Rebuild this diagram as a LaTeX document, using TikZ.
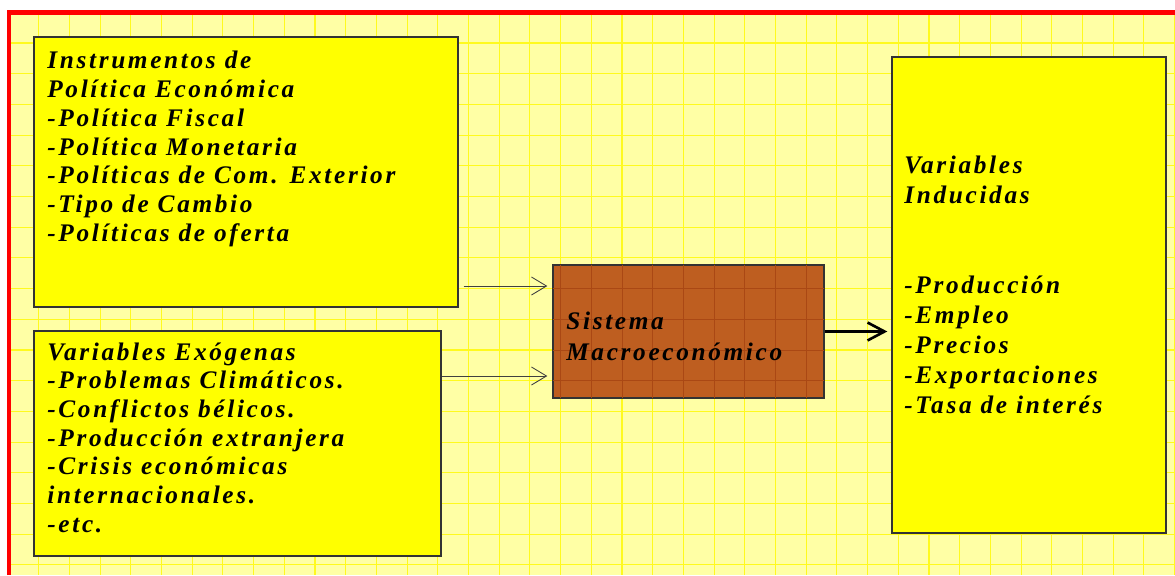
\documentclass[tikz,border=0pt]{standalone}
\usepackage{fontspec}
\setmainfont{Liberation Serif}
\newfontfamily\letra[LetterSpace=10.5]{Liberation Serif}
\usetikzlibrary{arrows.meta}

\definecolor{fondo}{RGB}{255,255,165}
\definecolor{rejilla}{RGB}{255,250,30}
\definecolor{amarillo}{RGB}{255,255,0}
\definecolor{marron}{RGB}{190,94,32}
\definecolor{marronosc}{RGB}{170,72,20}

\tikzset{
	caja/.style={draw=black!80, line width=0.8pt, fill=amarillo, inner sep=0},
	texto/.style={anchor=base west, inner sep=0, font=\letra\bfseries\itshape\fontsize{14.4}{17}\selectfont},
	flecha/.style={color=black!75, line width=0.5pt, -{Straight Barb[length=0.3cm, width=0.36cm, line width=0.5pt]}},
	flechagr/.style={color=black, line width=1.5pt, -{Straight Barb[length=0.34cm, width=0.36cm]}}
}

\begin{document}
\begin{tikzpicture}[x=0.02cm, y=-0.02cm]
		\useasboundingbox (0,0) rectangle (1175,575);
		
		% fondo y rejilla
		\fill[color=white] (0,0) rectangle (1175,575);
		\fill[color=fondo] (9,12) rectangle (1175,575);
		\foreach \k in {0,...,38}
			\draw[color=rejilla, line width=0.6pt] (8+30.7*\k,12) -- (8+30.7*\k,575);
		\foreach \k in {0,...,18}
			\draw[color=rejilla, line width=0.6pt] (9,12.3+30.7*\k) -- (1175,12.3+30.7*\k);
		
		% marco rojo
		\draw[color=red, line width=0.1cm] (9,575) -- (9,12) -- (1175,12);
		
		% cajas
		\node[caja, minimum width=8.48cm, minimum height=5.4cm] (instr) at (246,172) {};
		\node[caja, minimum width=8.14cm, minimum height=4.5cm] (exog) at (237.5,443.5) {};
		\node[caja, minimum width=5.48cm, minimum height=9.52cm] (induc) at (1029,295) {};
		\node[caja, fill=marron, minimum width=5.42cm, minimum height=2.66cm] (sis) at (688.5,331.5) {};
		\begin{scope}
			\clip (553,265) rectangle (824,398);
			\foreach \k in {18,...,27}
				\draw[color=marronosc, line width=0.5pt] (8+30.7*\k,265) -- (8+30.7*\k,398);
			\foreach \k in {8,...,12}
				\draw[color=marronosc, line width=0.5pt] (553,12.3+30.7*\k) -- (824,12.3+30.7*\k);
		\end{scope}
		\draw[color=black!80, line width=0.8pt] (sis.south west) rectangle (sis.north east);
		
		% textos
		\foreach \t [count=\i from 0] in {Instrumentos de, Política Económica, -Política Fiscal, -Política Monetaria, -Políticas de Com. Exterior, -Tipo de Cambio, -Políticas de oferta}
			\node[texto] (ti\i) at (47,68.3+28.9*\i) {\t};
		\foreach \t [count=\i from 0] in {Variables Exógenas, -Problemas Climáticos., -Conflictos bélicos., -Producción extranjera, -Crisis económicas, internacionales., -etc.}
			\node[texto] (te\i) at (47,360+28.7*\i) {\t};
		\foreach \t [count=\i from 0] in {Variables, Inducidas}
			\node[texto] (tv\i) at (904,173+30*\i) {\t};
		\foreach \t [count=\i from 0] in {-Producción, -Empleo, -Precios, -Exportaciones, -Tasa de interés}
			\node[texto] (tp\i) at (904,293+30*\i) {\t};
		\node[texto] (ts0) at (566,329) {Sistema};
		\node[texto] (ts1) at (566,360) {Macroeconómico};
		
		% flechas
		\coordinate (a1) at ([xshift=0.1cm]instr.east |- 0,286);
		\coordinate (a2) at (exog.east |- 0,376);
		\draw[flecha, shorten >=0.1cm] (a1) -- (a1 -| sis.west);
		\draw[flecha, shorten >=0.1cm] (a2) -- (a2 -| sis.west);
		\draw[flechagr, shorten >=0.08cm] (sis.east) -- (sis.east -| induc.west);
		
	\end{tikzpicture}
\end{document}
